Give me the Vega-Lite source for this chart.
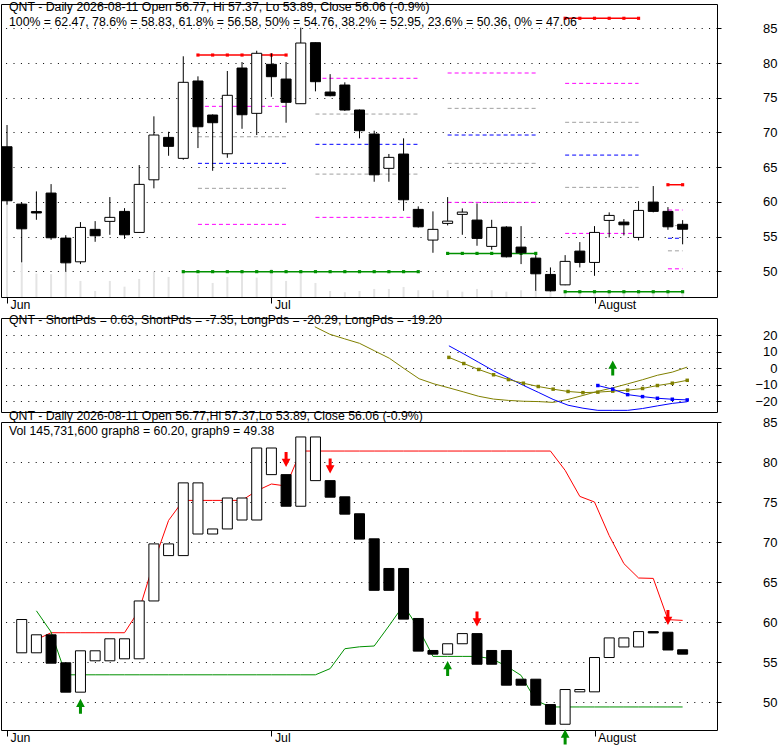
{
  "$schema": "https://vega.github.io/schema/vega-lite/v6.json",
  "padding": {"left": 0, "top": 0, "right": 0, "bottom": 0},
  "config": {
    "font": "Liberation Sans",
    "view": {"stroke": "black", "strokeWidth": 1},
    "title": {"font": "Liberation Sans", "fontSize": 12.3, "fontWeight": "normal", "color": "black", "subtitleFont": "Liberation Sans", "subtitleFontSize": 12.3, "subtitleColor": "black", "subtitlePadding": 2},
    "axis": {"labelFont": "Liberation Sans"}
  },
  "datasets": {
    "ohlc": [
      {"i": 0, "o": 67.94, "h": 71.07, "l": 59.6, "c": 60.16, "vol": 3420},
      {"i": 1, "o": 59.68, "h": 59.9, "l": 51.28, "c": 56.12, "vol": 1213},
      {"i": 2, "o": 58.6, "h": 61.51, "l": 57.42, "c": 58.4, "vol": 839},
      {"i": 3, "o": 61.27, "h": 62.56, "l": 54.54, "c": 54.83, "vol": 817},
      {"i": 4, "o": 54.78, "h": 55.2, "l": 50.03, "c": 51.22, "vol": 900},
      {"i": 5, "o": 51.37, "h": 57.09, "l": 51.04, "c": 56.32, "vol": 576},
      {"i": 6, "o": 56.04, "h": 57.23, "l": 54.25, "c": 55.12, "vol": 216},
      {"i": 7, "o": 57.19, "h": 60.69, "l": 55.26, "c": 57.77, "vol": 576},
      {"i": 8, "o": 58.63, "h": 59.1, "l": 54.68, "c": 55.26, "vol": 371},
      {"i": 9, "o": 55.6, "h": 65.3, "l": 55.6, "c": 62.52, "vol": 648},
      {"i": 10, "o": 63.18, "h": 72.32, "l": 61.95, "c": 69.63, "vol": 911},
      {"i": 11, "o": 69.29, "h": 70.1, "l": 66.64, "c": 68.0, "vol": 720},
      {"i": 12, "o": 66.27, "h": 80.97, "l": 66.07, "c": 77.22, "vol": 864},
      {"i": 13, "o": 77.41, "h": 78.08, "l": 67.75, "c": 70.82, "vol": 803},
      {"i": 14, "o": 72.51, "h": 72.6, "l": 64.48, "c": 71.4, "vol": 504},
      {"i": 15, "o": 66.93, "h": 78.85, "l": 66.35, "c": 75.35, "vol": 720},
      {"i": 16, "o": 79.28, "h": 80.14, "l": 70.53, "c": 72.55, "vol": 864},
      {"i": 17, "o": 72.75, "h": 81.77, "l": 69.63, "c": 81.4, "vol": 695},
      {"i": 18, "o": 79.81, "h": 81.4, "l": 75.14, "c": 78.03, "vol": 1008},
      {"i": 19, "o": 77.69, "h": 80.14, "l": 71.4, "c": 74.34, "vol": 576},
      {"i": 20, "o": 74.14, "h": 85.09, "l": 74.14, "c": 82.88, "vol": 911},
      {"i": 21, "o": 82.93, "h": 82.95, "l": 75.92, "c": 77.31, "vol": 504},
      {"i": 22, "o": 75.82, "h": 78.4, "l": 75.2, "c": 75.29, "vol": 216},
      {"i": 23, "o": 76.83, "h": 77.22, "l": 73.1, "c": 73.23, "vol": 169},
      {"i": 24, "o": 73.23, "h": 73.3, "l": 69.15, "c": 70.25, "vol": 216},
      {"i": 25, "o": 69.77, "h": 70.25, "l": 62.9, "c": 63.9, "vol": 288},
      {"i": 26, "o": 64.83, "h": 66.9, "l": 62.9, "c": 66.41, "vol": 288},
      {"i": 27, "o": 66.89, "h": 69.15, "l": 58.72, "c": 60.3, "vol": 360},
      {"i": 28, "o": 58.92, "h": 59.35, "l": 56.3, "c": 56.41, "vol": 241},
      {"i": 29, "o": 54.5, "h": 58.63, "l": 52.67, "c": 56.04, "vol": 241},
      {"i": 30, "o": 56.9, "h": 60.69, "l": 56.61, "c": 57.23, "vol": 241},
      {"i": 31, "o": 58.2, "h": 59.06, "l": 55.26, "c": 58.53, "vol": 191},
      {"i": 32, "o": 57.38, "h": 59.78, "l": 53.68, "c": 54.74, "vol": 288},
      {"i": 33, "o": 53.59, "h": 57.42, "l": 53.1, "c": 56.32, "vol": 241},
      {"i": 34, "o": 56.37, "h": 56.5, "l": 52.0, "c": 52.09, "vol": 191},
      {"i": 35, "o": 53.49, "h": 56.51, "l": 51.04, "c": 52.67, "vol": 241},
      {"i": 36, "o": 51.9, "h": 52.33, "l": 47.19, "c": 49.64, "vol": 241},
      {"i": 37, "o": 49.55, "h": 50.56, "l": 47.1, "c": 47.19, "vol": 216},
      {"i": 38, "o": 48.05, "h": 52.33, "l": 48.0, "c": 51.43, "vol": 170},
      {"i": 39, "o": 52.91, "h": 54.21, "l": 50.56, "c": 51.28, "vol": 160},
      {"i": 40, "o": 51.28, "h": 56.51, "l": 49.35, "c": 55.6, "vol": 160},
      {"i": 41, "o": 57.33, "h": 58.49, "l": 54.88, "c": 58.05, "vol": 150},
      {"i": 42, "o": 57.09, "h": 57.52, "l": 55.17, "c": 56.7, "vol": 150},
      {"i": 43, "o": 54.88, "h": 60.11, "l": 54.45, "c": 58.77, "vol": 160},
      {"i": 44, "o": 59.97, "h": 62.28, "l": 58.49, "c": 58.63, "vol": 150},
      {"i": 45, "o": 58.63, "h": 59.25, "l": 55.98, "c": 56.41, "vol": 150},
      {"i": 46, "o": 56.77, "h": 57.37, "l": 53.89, "c": 56.06, "vol": 145.7}
    ],
    "fib": [
      {"set": "A", "lvl": "78.6%", "i": 13, "i2": 19, "v": 73.76},
      {"set": "A", "lvl": "61.8%", "i": 13, "i2": 19, "v": 69.38},
      {"set": "A", "lvl": "50%", "i": 13, "i2": 19, "v": 65.55},
      {"set": "A", "lvl": "38.2%", "i": 13, "i2": 19, "v": 61.95},
      {"set": "A", "lvl": "23.6%", "i": 13, "i2": 19, "v": 56.76},
      {"set": "B", "lvl": "78.6%", "i": 21, "i2": 28, "v": 77.8},
      {"set": "B", "lvl": "61.8%", "i": 21, "i2": 28, "v": 72.65},
      {"set": "B", "lvl": "50%", "i": 21, "i2": 28, "v": 68.29},
      {"set": "B", "lvl": "38.2%", "i": 21, "i2": 28, "v": 64.0},
      {"set": "B", "lvl": "23.6%", "i": 21, "i2": 28, "v": 57.77},
      {"set": "C", "lvl": "78.6%", "i": 30, "i2": 36, "v": 78.56},
      {"set": "C", "lvl": "61.8%", "i": 30, "i2": 36, "v": 73.47},
      {"set": "C", "lvl": "50%", "i": 30, "i2": 36, "v": 69.63},
      {"set": "C", "lvl": "38.2%", "i": 30, "i2": 36, "v": 65.55},
      {"set": "C", "lvl": "23.6%", "i": 30, "i2": 36, "v": 59.93},
      {"set": "D", "lvl": "78.6%", "i": 38, "i2": 43, "v": 77.07},
      {"set": "D", "lvl": "61.8%", "i": 38, "i2": 43, "v": 71.46},
      {"set": "D", "lvl": "50%", "i": 38, "i2": 43, "v": 66.74},
      {"set": "D", "lvl": "38.2%", "i": 38, "i2": 43, "v": 62.09},
      {"set": "D", "lvl": "23.6%", "i": 38, "i2": 43, "v": 55.46},
      {"set": "E", "lvl": "78.6%", "i": 45, "i2": 46, "v": 58.83},
      {"set": "E", "lvl": "61.8%", "i": 45, "i2": 46, "v": 56.58},
      {"set": "E", "lvl": "50%", "i": 45, "i2": 46, "v": 54.76},
      {"set": "E", "lvl": "38.2%", "i": 45, "i2": 46, "v": 52.95},
      {"set": "E", "lvl": "23.6%", "i": 45, "i2": 46, "v": 50.36}
    ],
    "fibpts": [
      {"set": "A", "lvl": "100%", "i": 13, "v": 81.15},
      {"set": "A", "lvl": "100%", "i": 14, "v": 81.15},
      {"set": "A", "lvl": "100%", "i": 15, "v": 81.15},
      {"set": "A", "lvl": "100%", "i": 16, "v": 81.15},
      {"set": "A", "lvl": "100%", "i": 17, "v": 81.15},
      {"set": "A", "lvl": "100%", "i": 18, "v": 81.15},
      {"set": "A", "lvl": "100%", "i": 19, "v": 81.15},
      {"set": "AB", "lvl": "0%", "i": 12, "v": 49.95},
      {"set": "AB", "lvl": "0%", "i": 13, "v": 49.95},
      {"set": "AB", "lvl": "0%", "i": 14, "v": 49.95},
      {"set": "AB", "lvl": "0%", "i": 15, "v": 49.95},
      {"set": "AB", "lvl": "0%", "i": 16, "v": 49.95},
      {"set": "AB", "lvl": "0%", "i": 17, "v": 49.95},
      {"set": "AB", "lvl": "0%", "i": 18, "v": 49.95},
      {"set": "AB", "lvl": "0%", "i": 19, "v": 49.95},
      {"set": "AB", "lvl": "0%", "i": 20, "v": 49.95},
      {"set": "AB", "lvl": "0%", "i": 21, "v": 49.95},
      {"set": "AB", "lvl": "0%", "i": 22, "v": 49.95},
      {"set": "AB", "lvl": "0%", "i": 23, "v": 49.95},
      {"set": "AB", "lvl": "0%", "i": 24, "v": 49.95},
      {"set": "AB", "lvl": "0%", "i": 25, "v": 49.95},
      {"set": "AB", "lvl": "0%", "i": 26, "v": 49.95},
      {"set": "AB", "lvl": "0%", "i": 27, "v": 49.95},
      {"set": "AB", "lvl": "0%", "i": 28, "v": 49.95},
      {"set": "C", "lvl": "0%", "i": 30, "v": 52.58},
      {"set": "C", "lvl": "0%", "i": 31, "v": 52.58},
      {"set": "C", "lvl": "0%", "i": 32, "v": 52.58},
      {"set": "C", "lvl": "0%", "i": 33, "v": 52.58},
      {"set": "C", "lvl": "0%", "i": 34, "v": 52.58},
      {"set": "C", "lvl": "0%", "i": 35, "v": 52.58},
      {"set": "C", "lvl": "0%", "i": 36, "v": 52.58},
      {"set": "D", "lvl": "100%", "i": 38, "v": 86.44},
      {"set": "D", "lvl": "100%", "i": 39, "v": 86.44},
      {"set": "D", "lvl": "100%", "i": 40, "v": 86.44},
      {"set": "D", "lvl": "100%", "i": 41, "v": 86.44},
      {"set": "D", "lvl": "100%", "i": 42, "v": 86.44},
      {"set": "D", "lvl": "100%", "i": 43, "v": 86.44},
      {"set": "DE", "lvl": "0%", "i": 38, "v": 47.06},
      {"set": "DE", "lvl": "0%", "i": 39, "v": 47.06},
      {"set": "DE", "lvl": "0%", "i": 40, "v": 47.06},
      {"set": "DE", "lvl": "0%", "i": 41, "v": 47.06},
      {"set": "DE", "lvl": "0%", "i": 42, "v": 47.06},
      {"set": "DE", "lvl": "0%", "i": 43, "v": 47.06},
      {"set": "DE", "lvl": "0%", "i": 44, "v": 47.06},
      {"set": "DE", "lvl": "0%", "i": 45, "v": 47.06},
      {"set": "DE", "lvl": "0%", "i": 46, "v": 47.06},
      {"set": "E", "lvl": "100%", "i": 45, "v": 62.47},
      {"set": "E", "lvl": "100%", "i": 46, "v": 62.47}
    ],
    "osc": [
      {"s": "S1", "i": 21, "v": 25.0}, {"s": "S1", "i": 22, "v": 20.5}, {"s": "S1", "i": 23, "v": 17.7},
      {"s": "S1", "i": 24, "v": 15.0}, {"s": "S1", "i": 25, "v": 10.5}, {"s": "S1", "i": 26, "v": 6.0},
      {"s": "S1", "i": 27, "v": -0.3}, {"s": "S1", "i": 28, "v": -6.4}, {"s": "S1", "i": 29, "v": -9.5},
      {"s": "S1", "i": 30, "v": -11.9}, {"s": "S1", "i": 31, "v": -14.4}, {"s": "S1", "i": 32, "v": -17.0},
      {"s": "S1", "i": 33, "v": -18.7}, {"s": "S1", "i": 34, "v": -19.5}, {"s": "S1", "i": 35, "v": -20.0},
      {"s": "S1", "i": 36, "v": -20.2}, {"s": "S1", "i": 37, "v": -20.7}, {"s": "S1", "i": 38, "v": -18.9},
      {"s": "S1", "i": 39, "v": -16.5}, {"s": "S1", "i": 40, "v": -14.0}, {"s": "S1", "i": 41, "v": -11.9},
      {"s": "S1", "i": 42, "v": -9.5}, {"s": "S1", "i": 43, "v": -7.0}, {"s": "S1", "i": 44, "v": -4.3},
      {"s": "S1", "i": 45, "v": -2.4}, {"s": "S1", "i": 46, "v": 0.63},
      {"s": "S2", "i": 30, "v": 6.5}, {"s": "S2", "i": 31, "v": 2.8}, {"s": "S2", "i": 32, "v": -0.8},
      {"s": "S2", "i": 33, "v": -4.0}, {"s": "S2", "i": 34, "v": -6.9}, {"s": "S2", "i": 35, "v": -9.1},
      {"s": "S2", "i": 36, "v": -11.1}, {"s": "S2", "i": 37, "v": -12.7}, {"s": "S2", "i": 38, "v": -14.1},
      {"s": "S2", "i": 39, "v": -14.8}, {"s": "S2", "i": 40, "v": -14.5}, {"s": "S2", "i": 41, "v": -13.9},
      {"s": "S2", "i": 42, "v": -13.3}, {"s": "S2", "i": 43, "v": -12.3}, {"s": "S2", "i": 44, "v": -10.5},
      {"s": "S2", "i": 45, "v": -9.1}, {"s": "S2", "i": 46, "v": -7.35},
      {"s": "L1", "i": 30, "v": 13.5}, {"s": "L1", "i": 31, "v": 8.6}, {"s": "L1", "i": 32, "v": 3.5},
      {"s": "L1", "i": 33, "v": -1.6}, {"s": "L1", "i": 34, "v": -6.0}, {"s": "L1", "i": 35, "v": -10.4},
      {"s": "L1", "i": 36, "v": -14.6}, {"s": "L1", "i": 37, "v": -18.9}, {"s": "L1", "i": 38, "v": -22.4},
      {"s": "L1", "i": 39, "v": -24.2}, {"s": "L1", "i": 40, "v": -25.5}, {"s": "L1", "i": 41, "v": -25.5},
      {"s": "L1", "i": 42, "v": -25.5}, {"s": "L1", "i": 43, "v": -24.4}, {"s": "L1", "i": 44, "v": -22.8},
      {"s": "L1", "i": 45, "v": -21.3}, {"s": "L1", "i": 46, "v": -20.29},
      {"s": "L2", "i": 40, "v": -10.5}, {"s": "L2", "i": 41, "v": -12.7}, {"s": "L2", "i": 42, "v": -16.0},
      {"s": "L2", "i": 43, "v": -17.2}, {"s": "L2", "i": 44, "v": -18.2}, {"s": "L2", "i": 45, "v": -18.8},
      {"s": "L2", "i": 46, "v": -19.2}
    ],
    "bars": [
      {"i": 1, "o": 56.15, "c": 60.31}, {"i": 2, "o": 56.15, "c": 58.4}, {"i": 3, "o": 58.4, "c": 54.85},
      {"i": 4, "o": 54.9, "c": 51.23}, {"i": 5, "o": 51.23, "c": 56.4}, {"i": 6, "o": 55.15, "c": 56.4},
      {"i": 7, "o": 55.15, "c": 57.9}, {"i": 8, "o": 55.4, "c": 57.9}, {"i": 9, "o": 55.4, "c": 62.63},
      {"i": 10, "o": 62.63, "c": 69.76}, {"i": 11, "o": 68.3, "c": 69.76}, {"i": 12, "o": 68.3, "c": 77.39},
      {"i": 13, "o": 71.0, "c": 77.39}, {"i": 14, "o": 71.0, "c": 71.63}, {"i": 15, "o": 71.63, "c": 75.5},
      {"i": 16, "o": 72.75, "c": 75.5}, {"i": 17, "o": 72.75, "c": 81.75}, {"i": 18, "o": 78.42, "c": 81.75},
      {"i": 19, "o": 78.42, "c": 74.47}, {"i": 20, "o": 74.47, "c": 83.13}, {"i": 21, "o": 77.67, "c": 83.13},
      {"i": 22, "o": 77.67, "c": 75.6}, {"i": 23, "o": 75.65, "c": 73.48}, {"i": 24, "o": 73.53, "c": 70.36},
      {"i": 25, "o": 70.4, "c": 63.96}, {"i": 26, "o": 66.69, "c": 63.96}, {"i": 27, "o": 66.69, "c": 60.36},
      {"i": 28, "o": 60.44, "c": 56.36}, {"i": 29, "o": 56.44, "c": 55.98}, {"i": 30, "o": 55.98, "c": 57.28},
      {"i": 31, "o": 57.28, "c": 58.55}, {"i": 32, "o": 58.55, "c": 54.72}, {"i": 33, "o": 56.44, "c": 54.72},
      {"i": 34, "o": 56.44, "c": 52.1}, {"i": 35, "o": 52.85, "c": 52.1}, {"i": 36, "o": 52.85, "c": 49.6},
      {"i": 37, "o": 49.68, "c": 47.22}, {"i": 38, "o": 47.22, "c": 51.56}, {"i": 39, "o": 51.27, "c": 51.56},
      {"i": 40, "o": 51.27, "c": 55.56}, {"i": 41, "o": 55.56, "c": 58.01}, {"i": 42, "o": 56.88, "c": 58.01},
      {"i": 43, "o": 56.88, "c": 58.8}, {"i": 44, "o": 58.8, "c": 58.63}, {"i": 45, "o": 58.72, "c": 56.5},
      {"i": 46, "o": 56.53, "c": 55.98}
    ],
    "stops": [
      {"g": "graph8", "i": 2, "v": 57.8}, {"g": "graph8", "i": 3, "v": 58.66}, {"g": "graph8", "i": 4, "v": 58.66},
      {"g": "graph8", "i": 5, "v": 58.66}, {"g": "graph8", "i": 6, "v": 58.66}, {"g": "graph8", "i": 7, "v": 58.66},
      {"g": "graph8", "i": 8, "v": 58.66}, {"g": "graph8", "i": 9, "v": 61.5}, {"g": "graph8", "i": 10, "v": 67.5},
      {"g": "graph8", "i": 11, "v": 72.7}, {"g": "graph8", "i": 12, "v": 75.2}, {"g": "graph8", "i": 13, "v": 75.2},
      {"g": "graph8", "i": 14, "v": 75.2}, {"g": "graph8", "i": 15, "v": 75.2}, {"g": "graph8", "i": 16, "v": 75.2},
      {"g": "graph8", "i": 17, "v": 76.4}, {"g": "graph8", "i": 18, "v": 77.25}, {"g": "graph8", "i": 19, "v": 77.0},
      {"g": "graph8", "i": 20, "v": 81.37}, {"g": "graph8", "i": 21, "v": 81.37}, {"g": "graph8", "i": 22, "v": 81.37},
      {"g": "graph8", "i": 23, "v": 81.37}, {"g": "graph8", "i": 24, "v": 81.37}, {"g": "graph8", "i": 25, "v": 81.37},
      {"g": "graph8", "i": 26, "v": 81.37}, {"g": "graph8", "i": 27, "v": 81.37}, {"g": "graph8", "i": 28, "v": 81.37},
      {"g": "graph8", "i": 29, "v": 81.37}, {"g": "graph8", "i": 30, "v": 81.37}, {"g": "graph8", "i": 31, "v": 81.37},
      {"g": "graph8", "i": 32, "v": 81.37}, {"g": "graph8", "i": 33, "v": 81.37}, {"g": "graph8", "i": 34, "v": 81.37},
      {"g": "graph8", "i": 35, "v": 81.37}, {"g": "graph8", "i": 36, "v": 81.37}, {"g": "graph8", "i": 37, "v": 81.37},
      {"g": "graph8", "i": 38, "v": 78.96}, {"g": "graph8", "i": 39, "v": 75.7}, {"g": "graph8", "i": 40, "v": 75.0},
      {"g": "graph8", "i": 41, "v": 70.8}, {"g": "graph8", "i": 42, "v": 67.3}, {"g": "graph8", "i": 43, "v": 65.5},
      {"g": "graph8", "i": 44, "v": 65.45}, {"g": "graph8", "i": 45, "v": 60.3}, {"g": "graph8", "i": 46, "v": 60.2},
      {"g": "graph9", "i": 2, "v": 61.4}, {"g": "graph9", "i": 3, "v": 58.75}, {"g": "graph9", "i": 4, "v": 53.4},
      {"g": "graph9", "i": 5, "v": 53.4}, {"g": "graph9", "i": 6, "v": 53.4}, {"g": "graph9", "i": 7, "v": 53.4},
      {"g": "graph9", "i": 8, "v": 53.4}, {"g": "graph9", "i": 9, "v": 53.4}, {"g": "graph9", "i": 10, "v": 53.4},
      {"g": "graph9", "i": 11, "v": 53.4}, {"g": "graph9", "i": 12, "v": 53.4}, {"g": "graph9", "i": 13, "v": 53.4},
      {"g": "graph9", "i": 14, "v": 53.4}, {"g": "graph9", "i": 15, "v": 53.4}, {"g": "graph9", "i": 16, "v": 53.4},
      {"g": "graph9", "i": 17, "v": 53.4}, {"g": "graph9", "i": 18, "v": 53.4}, {"g": "graph9", "i": 19, "v": 53.4},
      {"g": "graph9", "i": 20, "v": 53.4}, {"g": "graph9", "i": 21, "v": 53.4}, {"g": "graph9", "i": 22, "v": 54.17},
      {"g": "graph9", "i": 23, "v": 56.66}, {"g": "graph9", "i": 24, "v": 56.9}, {"g": "graph9", "i": 25, "v": 57.0},
      {"g": "graph9", "i": 26, "v": 59.5}, {"g": "graph9", "i": 27, "v": 62.1}, {"g": "graph9", "i": 28, "v": 59.25},
      {"g": "graph9", "i": 29, "v": 55.7}, {"g": "graph9", "i": 30, "v": 55.7}, {"g": "graph9", "i": 31, "v": 55.7},
      {"g": "graph9", "i": 32, "v": 55.7}, {"g": "graph9", "i": 33, "v": 55.4}, {"g": "graph9", "i": 34, "v": 54.5},
      {"g": "graph9", "i": 35, "v": 53.33}, {"g": "graph9", "i": 36, "v": 50.2}, {"g": "graph9", "i": 37, "v": 49.38},
      {"g": "graph9", "i": 38, "v": 49.38}, {"g": "graph9", "i": 39, "v": 49.38}, {"g": "graph9", "i": 40, "v": 49.38},
      {"g": "graph9", "i": 41, "v": 49.38}, {"g": "graph9", "i": 42, "v": 49.38}, {"g": "graph9", "i": 43, "v": 49.38},
      {"g": "graph9", "i": 44, "v": 49.38}, {"g": "graph9", "i": 45, "v": 49.38}, {"g": "graph9", "i": 46, "v": 49.38}
    ],
    "sig": [
      {"p": "mid", "d": "up", "i": 41, "v": 0.1},
      {"p": "low", "d": "down", "i": 19, "v": 80.31},
      {"p": "low", "d": "down", "i": 22, "v": 79.51},
      {"p": "low", "d": "down", "i": 32, "v": 60.39},
      {"p": "low", "d": "down", "i": 45, "v": 60.56},
      {"p": "low", "d": "up", "i": 5, "v": 49.47},
      {"p": "low", "d": "up", "i": 30, "v": 54.2},
      {"p": "low", "d": "up", "i": 38, "v": 45.63}
    ]
  },
  "bounds": "flush",
  "spacing": 21,
  "resolve": {"scale": {"color": "independent"}},
  "vconcat": [
    {
      "width": 716,
      "height": 293,
      "title": {
        "text": "QNT - Daily 2026-08-11 Open 56.77, Hi 57.37, Lo 53.89, Close 56.06 (-0.9%)",
        "subtitle": "100% = 62.47, 78.6% = 58.83, 61.8% = 56.58, 50% = 54.76, 38.2% = 52.95, 23.6% = 50.36, 0% = 47.06",
        "anchor": "start", "frame": "group", "offset": -24, "dx": 8
      },
      "encoding": {
        "x": {"field": "i", "type": "quantitative", "scale": {"domain": [-0.07, 48], "nice": false, "zero": false},
          "axis": {"values": [0, 18, 40], "labelExpr": "datum.value == 0 ? 'Jun' : datum.value == 18 ? 'Jul' : 'August'", "grid": false, "domain": false, "tickSize": 6, "tickColor": "black", "labelAlign": "left", "labelBaseline": "top", "labelPadding": -5, "labelOffset": 3, "labelFlush": false, "labelFontSize": 12.3, "labelColor": "black", "title": null}}
      },
      "resolve": {"scale": {"y": "independent"}},
      "layer": [
        {
          "data": {"name": "ohlc"},
          "mark": {"type": "rule", "color": "#e4e4e4", "strokeWidth": 2},
          "encoding": {
            "y": {"field": "vol", "type": "quantitative", "scale": {"domain": [0, 10500], "nice": false}, "axis": null},
            "y2": {"datum": 0}
          }
        },
        {
          "layer": [
            {
              "data": {"name": "fib"},
              "mark": {"type": "rule", "strokeDash": [4, 3], "strokeWidth": 1},
              "encoding": {
                "x2": {"field": "i2"},
                "y": {"field": "v", "type": "quantitative", "scale": {"domain": [46.3, 88.5], "nice": false, "zero": false},
                  "axis": {"orient": "right", "values": [50, 55, 60, 65, 70, 75, 80, 85], "grid": true, "gridColor": "black", "gridDash": [1, 6.4], "gridOpacity": 1, "domain": false, "tickSize": 4, "tickColor": "black", "labelAlign": "right", "labelBaseline": "middle", "labelPadding": 56, "labelFontSize": 13, "labelColor": "black", "labelFlush": false, "title": null}},
                "color": {"field": "lvl", "type": "nominal", "legend": null,
                  "scale": {"domain": ["100%", "78.6%", "61.8%", "50%", "38.2%", "23.6%", "0%"], "range": ["#ff0000", "#ff00ff", "#a0a0a0", "#0000ff", "#a0a0a0", "#ff00ff", "#009000"]}}
              }
            },
            {
              "data": {"name": "fibpts"},
              "mark": {"type": "line", "strokeWidth": 1.5, "point": {"shape": "square", "size": 10, "filled": true}},
              "encoding": {
                "y": {"field": "v", "type": "quantitative", "scale": {"domain": [46.3, 88.5], "nice": false, "zero": false},
                  "axis": {"orient": "right", "values": [50, 55, 60, 65, 70, 75, 80, 85], "grid": true, "gridColor": "black", "gridDash": [1, 6.4], "gridOpacity": 1, "domain": false, "tickSize": 4, "tickColor": "black", "labelAlign": "right", "labelBaseline": "middle", "labelPadding": 56, "labelFontSize": 13, "labelColor": "black", "labelFlush": false, "title": null}},
                "color": {"field": "lvl", "type": "nominal", "legend": null,
                  "scale": {"domain": ["100%", "78.6%", "61.8%", "50%", "38.2%", "23.6%", "0%"], "range": ["#ff0000", "#ff00ff", "#a0a0a0", "#0000ff", "#a0a0a0", "#ff00ff", "#009000"]}},
                "detail": {"field": "set", "type": "nominal"}
              }
            },
            {
              "data": {"name": "ohlc"},
              "mark": {"type": "rule", "color": "black", "strokeWidth": 1},
              "encoding": {
                "y": {"field": "l", "type": "quantitative", "scale": {"domain": [46.3, 88.5], "nice": false, "zero": false},
                  "axis": {"orient": "right", "values": [50, 55, 60, 65, 70, 75, 80, 85], "grid": true, "gridColor": "black", "gridDash": [1, 6.4], "gridOpacity": 1, "domain": false, "tickSize": 4, "tickColor": "black", "labelAlign": "right", "labelBaseline": "middle", "labelPadding": 56, "labelFontSize": 13, "labelColor": "black", "labelFlush": false, "title": null}},
                "y2": {"field": "h"}
              }
            },
            {
              "data": {"name": "ohlc"},
              "mark": {"type": "bar", "size": 10, "stroke": "black", "strokeWidth": 1, "orient": "vertical"},
              "encoding": {
                "y": {"field": "o", "type": "quantitative", "scale": {"domain": [46.3, 88.5], "nice": false, "zero": false},
                  "axis": {"orient": "right", "values": [50, 55, 60, 65, 70, 75, 80, 85], "grid": true, "gridColor": "black", "gridDash": [1, 6.4], "gridOpacity": 1, "domain": false, "tickSize": 4, "tickColor": "black", "labelAlign": "right", "labelBaseline": "middle", "labelPadding": 56, "labelFontSize": 13, "labelColor": "black", "labelFlush": false, "title": null}},
                "y2": {"field": "c"},
                "fill": {"condition": {"test": "datum.c < datum.o", "value": "black"}, "value": "white"}
              }
            }
          ]
        }
      ]
    },
    {
      "bounds": "flush",
      "spacing": 10,
      "resolve": {"scale": {"color": "independent"}},
      "vconcat": [
        {
          "width": 716,
          "height": 94,
          "title": {
            "text": "QNT - ShortPds = 0.63, ShortPds = -7.35, LongPds = -20.29, LongPds = -19.20",
            "anchor": "start", "frame": "group", "offset": -8, "dx": 8
          },
          "encoding": {
            "x": {"field": "i", "type": "quantitative", "scale": {"domain": [-0.07, 48], "nice": false, "zero": false}, "axis": null},
            "y": {"field": "v", "type": "quantitative", "scale": {"domain": [-26.5, 30.3], "nice": false, "zero": false},
              "axis": {"orient": "right", "values": [-20, -10, 0, 10, 20], "grid": true, "gridColor": "black", "gridDash": [1, 6.4], "gridOpacity": 1, "domain": false, "tickSize": 4, "tickColor": "black", "labelAlign": "right", "labelBaseline": "middle", "labelPadding": 56, "labelFontSize": 13, "labelColor": "black", "labelFlush": false, "title": null}}
          },
          "layer": [
            {
              "data": {"name": "osc"},
              "transform": [{"filter": "datum.s == 'S1' || datum.s == 'L1'"}],
              "mark": {"type": "line", "strokeWidth": 1},
              "encoding": {
                "color": {"field": "s", "type": "nominal", "legend": null,
                  "scale": {"domain": ["S1", "S2", "L1", "L2"], "range": ["#808000", "#808000", "#0000ff", "#0000ff"]}}
              }
            },
            {
              "data": {"name": "osc"},
              "transform": [{"filter": "datum.s == 'S2' || datum.s == 'L2'"}],
              "mark": {"type": "line", "strokeWidth": 1, "point": {"shape": "square", "size": 12, "filled": true}},
              "encoding": {
                "color": {"field": "s", "type": "nominal", "legend": null,
                  "scale": {"domain": ["S1", "S2", "L1", "L2"], "range": ["#808000", "#808000", "#0000ff", "#0000ff"]}}
              }
            },
            {
              "data": {"name": "sig"},
              "transform": [{"filter": "datum.p == 'mid'"}],
              "mark": {"type": "point", "shape": "M-0.2,1L0.2,1L0.2,0.1L0.58,0.1L0,-1L-0.58,0.1L-0.2,0.1Z", "size": 225, "filled": true, "color": "#009000", "opacity": 1, "strokeWidth": 0}
            }
          ]
        },
        {
          "width": 716,
          "height": 308,
          "title": {
            "text": "QNT - Daily 2026-08-11 Open 56.77,Hi 57.37,Lo 53.89, Close 56.06 (-0.9%)",
            "subtitle": "Vol 145,731,600 graph8 = 60.20, graph9 = 49.38",
            "anchor": "start", "frame": "group", "offset": -21, "dx": 8
          },
          "encoding": {
            "x": {"field": "i", "type": "quantitative", "scale": {"domain": [-0.07, 48], "nice": false, "zero": false},
              "axis": {"values": [0, 18, 40], "labelExpr": "datum.value == 0 ? 'Jun' : datum.value == 18 ? 'Jul' : 'August'", "grid": false, "domain": false, "tickSize": 6, "tickColor": "black", "labelAlign": "left", "labelBaseline": "top", "labelPadding": -5, "labelOffset": 3, "labelFlush": false, "labelFontSize": 12.3, "labelColor": "black", "title": null}}
          },
          "layer": [
            {
              "data": {"name": "stops"},
              "mark": {"type": "line", "strokeWidth": 1},
              "encoding": {
                "y": {"field": "v", "type": "quantitative", "scale": {"domain": [46.5, 85], "nice": false, "zero": false},
                  "axis": {"orient": "right", "values": [50, 55, 60, 65, 70, 75, 80, 85], "grid": true, "gridColor": "black", "gridDash": [1, 6.4], "gridOpacity": 1, "domain": false, "tickSize": 4, "tickColor": "black", "labelAlign": "right", "labelBaseline": "middle", "labelPadding": 56, "labelFontSize": 13, "labelColor": "black", "labelFlush": false, "title": null}},
                "color": {"field": "g", "type": "nominal", "legend": null,
                  "scale": {"domain": ["graph8", "graph9"], "range": ["#ff0000", "#009000"]}}
              }
            },
            {
              "data": {"name": "bars"},
              "mark": {"type": "bar", "size": 10, "stroke": "black", "strokeWidth": 1, "orient": "vertical"},
              "encoding": {
                "y": {"field": "o", "type": "quantitative", "scale": {"domain": [46.5, 85], "nice": false, "zero": false},
                  "axis": {"orient": "right", "values": [50, 55, 60, 65, 70, 75, 80, 85], "grid": true, "gridColor": "black", "gridDash": [1, 6.4], "gridOpacity": 1, "domain": false, "tickSize": 4, "tickColor": "black", "labelAlign": "right", "labelBaseline": "middle", "labelPadding": 56, "labelFontSize": 13, "labelColor": "black", "labelFlush": false, "title": null}},
                "y2": {"field": "c"},
                "fill": {"condition": {"test": "datum.c < datum.o", "value": "black"}, "value": "white"}
              }
            },
            {
              "data": {"name": "sig"},
              "transform": [{"filter": "datum.p == 'low' && datum.d == 'down'"}],
              "mark": {"type": "point", "shape": "M-0.2,-1L0.2,-1L0.2,-0.1L0.58,-0.1L0,1L-0.58,-0.1L-0.2,-0.1Z", "size": 225, "filled": true, "color": "#ff0000", "opacity": 1, "strokeWidth": 0},
              "encoding": {
                "y": {"field": "v", "type": "quantitative", "scale": {"domain": [46.5, 85], "nice": false, "zero": false},
                  "axis": {"orient": "right", "values": [50, 55, 60, 65, 70, 75, 80, 85], "grid": true, "gridColor": "black", "gridDash": [1, 6.4], "gridOpacity": 1, "domain": false, "tickSize": 4, "tickColor": "black", "labelAlign": "right", "labelBaseline": "middle", "labelPadding": 56, "labelFontSize": 13, "labelColor": "black", "labelFlush": false, "title": null}}
              }
            },
            {
              "data": {"name": "sig"},
              "transform": [{"filter": "datum.p == 'low' && datum.d == 'up'"}],
              "mark": {"type": "point", "shape": "M-0.2,1L0.2,1L0.2,0.1L0.58,0.1L0,-1L-0.58,0.1L-0.2,0.1Z", "size": 225, "filled": true, "color": "#009000", "opacity": 1, "strokeWidth": 0},
              "encoding": {
                "y": {"field": "v", "type": "quantitative", "scale": {"domain": [46.5, 85], "nice": false, "zero": false},
                  "axis": {"orient": "right", "values": [50, 55, 60, 65, 70, 75, 80, 85], "grid": true, "gridColor": "black", "gridDash": [1, 6.4], "gridOpacity": 1, "domain": false, "tickSize": 4, "tickColor": "black", "labelAlign": "right", "labelBaseline": "middle", "labelPadding": 56, "labelFontSize": 13, "labelColor": "black", "labelFlush": false, "title": null}}
              }
            }
          ]
        }
      ]
    }
  ]
}
